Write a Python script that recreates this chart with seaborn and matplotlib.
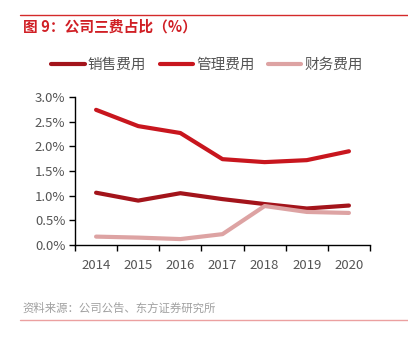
import matplotlib
matplotlib.use("Agg")
import matplotlib.pyplot as plt
import seaborn as sns
import pandas as pd
from matplotlib.lines import Line2D
from matplotlib.ticker import FuncFormatter, MultipleLocator

years = ["2014", "2015", "2016", "2017", "2018", "2019", "2020"]
selling = [1.06, 0.90, 1.05, 0.93, 0.83, 0.74, 0.80]
admin = [2.74, 2.41, 2.27, 1.74, 1.68, 1.72, 1.90]
finance = [0.17, 0.15, 0.12, 0.22, 0.79, 0.67, 0.65]
series_names = ["销售费用", "管理费用", "财务费用"]
colors = ["#A3141B", "#C8161E", "#DDA3A3"]

sns.set_theme(style="white")
plt.rcParams["font.family"] = ["Noto Sans CJK SC", "DejaVu Sans"]

df = pd.DataFrame({
    "year": years * 3,
    "pos": list(range(len(years))) * 3,
    "value": selling + admin + finance,
    "series": [series_names[0]] * 7 + [series_names[1]] * 7 + [series_names[2]] * 7,
})

fig = plt.figure(figsize=(4.08, 3.45), dpi=100)
ax = fig.add_axes([75 / 408, 1 - 245 / 345, (370 - 75) / 408, (245 - 97) / 345])

sns.lineplot(data=df, x="pos", y="value", hue="series", hue_order=series_names,
             palette=colors, linewidth=3, ax=ax, legend=False, sort=False)

ax.set_xlim(-0.5, len(years) - 0.5)
ax.set_ylim(0, 3.0)
ax.yaxis.set_major_locator(MultipleLocator(0.5))
ax.yaxis.set_major_formatter(FuncFormatter(lambda v, p: f"{v:.1f}%"))
ax.set_xticks(range(len(years)))
ax.set_xticklabels(years)
ax.set_xticks([i - 0.5 for i in range(len(years) + 1)], minor=True)
ax.tick_params(axis="x", which="major", length=0, pad=10, labelsize=9.5, colors="#555555")
ax.tick_params(axis="x", which="minor", length=4, width=1, color="black", direction="out", bottom=True)
ax.tick_params(axis="y", length=4, width=1, color="black", direction="out", left=True,
               labelsize=9.5, labelcolor="#555555", pad=3)
for lab in ax.get_xticklabels():
    lab.set_color("#555555")
ax.set_xlabel("")
ax.set_ylabel("")
for s in ["top", "right"]:
    ax.spines[s].set_visible(False)
for s in ["left", "bottom"]:
    ax.spines[s].set_color("black")
    ax.spines[s].set_linewidth(1)

handles = [Line2D([0], [0], color=c, linewidth=3) for c in colors]
fig.legend(handles, series_names, loc="center", bbox_to_anchor=(207 / 408, 1 - 65 / 345),
           ncol=3, frameon=False, fontsize=10.5, handlelength=2.3, handletextpad=0.2,
           columnspacing=0.9, labelcolor="#555555")

# header rule and title
fig.add_artist(Line2D([20 / 408, 1.0], [1 - 15 / 345] * 2, color="#D42A2A", linewidth=1))
fig.text(23 / 408, 1 - 27 / 345, "图 9：公司三费占比（%）", color="#D01F25",
         fontsize=10.6, fontweight="bold", va="center", ha="left")

# source note and footer rule
fig.text(22 / 408, 1 - 308 / 345, "资料来源：公司公告、东方证券研究所", color="#A0A0A0",
         fontsize=8.2, va="center", ha="left")
fig.add_artist(Line2D([20 / 408, 1.0], [1 - 320 / 345] * 2, color="#EBA0A0", linewidth=1))

fig.savefig("out.png", dpi=100)
